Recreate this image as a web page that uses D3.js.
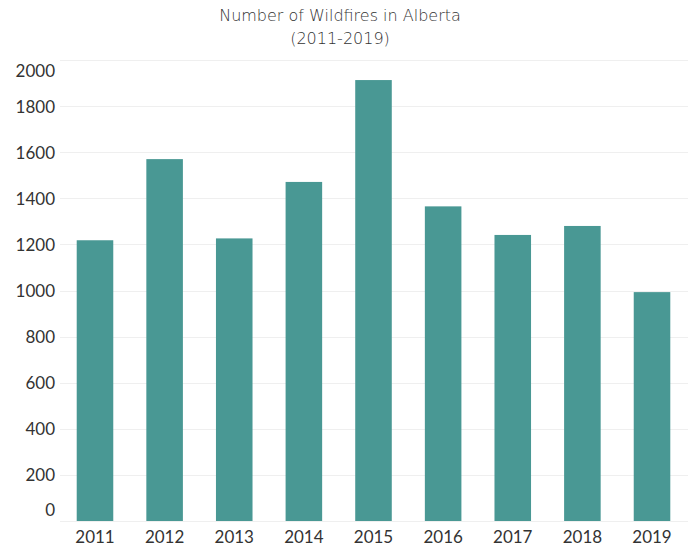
<!DOCTYPE html>
<html>
<head>
<meta charset="utf-8">
<script src="https://cdn.jsdelivr.net/npm/d3@7"></script>
<style>
  body { margin: 0; background: #fff; }
  svg { display: block; font-family: Lato, "Open Sans", sans-serif; }
</style>
</head>
<body>
<div class="chart"></div>
<script>
// data
var years = ["2011", "2012", "2013", "2014", "2015", "2016", "2017", "2018", "2019"];
var fires = [1218, 1570, 1226, 1471, 1913, 1365, 1241, 1280, 993];
var yTicks = [0, 200, 400, 600, 800, 1000, 1200, 1400, 1600, 1800, 2000];
var titleLines = ["Number of Wildfires in Alberta", "(2011-2019)"];

var svgWidth = 691;
var svgHeight = 548;

var svg = d3.select(".chart")
  .append("svg")
  .attr("width", svgWidth)
  .attr("height", svgHeight);

// scales
var xScale = d3.scaleBand()
  .domain(years)
  .range([60, 687])
  .paddingInner(0.475)
  .paddingOuter(0.24);

var yScale = d3.scaleLinear()
  .domain([0, 2000])
  .range([521, 60]);

// gridlines
svg.append("g")
  .selectAll("line")
  .data(yTicks)
  .enter()
  .append("line")
  .attr("x1", 60)
  .attr("x2", 688)
  .attr("y1", d => Math.round(yScale(d)) + 0.5)
  .attr("y2", d => Math.round(yScale(d)) + 0.5)
  .attr("stroke", "#efefef")
  .attr("stroke-width", 1);

// bars
svg.append("g")
  .selectAll("rect")
  .data(years)
  .enter()
  .append("rect")
  .attr("x", d => xScale(d))
  .attr("width", xScale.bandwidth())
  .attr("y", (d, i) => yScale(fires[i]))
  .attr("height", (d, i) => yScale(0) - yScale(fires[i]))
  .attr("fill", "#499894");

// y axis labels (edge labels nudged inward, as in the original)
var yAxis = d3.axisLeft(yScale)
  .tickValues(yTicks)
  .tickFormat(d3.format("d"))
  .tickSize(0)
  .tickPadding(0);

var yG = svg.append("g")
  .attr("transform", "translate(55,0)")
  .call(yAxis);
yG.select(".domain").remove();
yG.selectAll("text")
  .attr("font-size", "17px")
  .attr("font-family", "Lato, sans-serif")
  .attr("fill", "#333")
  .attr("dy", d => d === 0 ? "-0.3em" : (d === 2000 ? "0.98em" : "0.35em"));

// x axis labels
var xAxis = d3.axisBottom(xScale)
  .tickSize(0)
  .tickPadding(0);

var xG = svg.append("g")
  .attr("transform", "translate(0,529)")
  .call(xAxis);
xG.select(".domain").remove();
xG.selectAll("text")
  .attr("font-size", "17px")
  .attr("font-family", "Lato, sans-serif")
  .attr("fill", "#333")
  .attr("dy", "0.85em");

// title
svg.append("g")
  .selectAll("text")
  .data(titleLines)
  .enter()
  .append("text")
  .attr("x", 340)
  .attr("y", (d, i) => 21 + i * 23)
  .attr("text-anchor", "middle")
  .attr("font-family", "'DejaVu Sans', sans-serif")
  .attr("font-size", "16px")
  .attr("font-weight", 200)
  .attr("fill", "#333")
  .text(d => d);
</script>
</body>
</html>
